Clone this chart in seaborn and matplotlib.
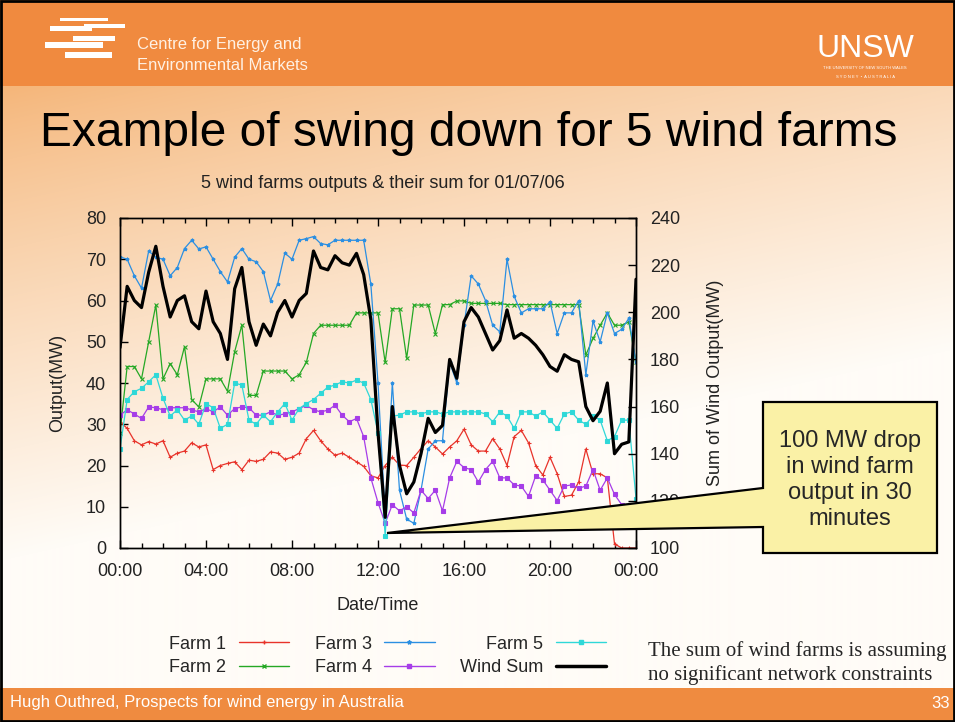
import numpy as np
import pandas as pd
import seaborn as sns
import matplotlib
matplotlib.use("Agg")
import matplotlib.pyplot as plt
from matplotlib.lines import Line2D
from matplotlib.patches import Rectangle, Polygon


# ── Data (20-minute steps) ──────────────────────────────────────────────────

minutes = list(range(0, 1441, 20))
hours = [m / 60 for m in minutes]

# MW, left axis
farm1 = [
    30.6, 29, 26, 25, 25.8, 25.2, 26, 22, 23, 23.5, 25.5, 24.5,
    25, 19, 20, 20.5, 20.9, 19, 21.3, 21, 21.5, 23.3, 23, 21.5,
    22, 23, 26.5, 28.5, 26, 24, 22.5, 23, 22, 20.9, 19.8, 17.5,
    17, 20, 22, 20.1, 20, 22, 24.1, 26, 24.5, 22.8, 24.5, 26,
    28.8, 25, 23.5, 23.5, 26.5, 24, 20, 27, 28.5, 25.5, 20, 17.7,
    22, 18, 12.5, 12.8, 16, 24, 18, 18, 17, 1, 0, 0,
    0]
farm2 = [
    28, 44, 44, 41, 50, 58.9, 41, 44.7, 42, 48.8, 36, 34.2,
    41, 41, 41, 38, 47.6, 54, 37, 37, 42.9, 42.9, 42.9, 42.9,
    41, 42, 45, 52, 54, 54, 54, 54, 54, 57, 57, 57,
    57, 45, 58, 58, 46, 58.9, 58.9, 58.9, 52, 59, 59, 59.9,
    59.9, 59.3, 59.3, 59.3, 59.3, 59.3, 59, 59, 59, 59, 59, 59,
    59, 59, 59, 59, 59, 46.8, 50.8, 54, 57, 54, 54, 54.8,
    45]
farm3 = [
    70.6, 70, 66, 63, 72, 70.5, 70, 66, 68, 72.6, 74.6, 72.5,
    73, 70, 67, 64.5, 70.5, 72.6, 70, 69.4, 67, 60, 64, 71.5,
    70, 74.6, 75, 75.5, 73.8, 73.5, 74.6, 74.6, 74.6, 74.6, 74.6, 64,
    40, 8, 40, 14, 7, 6, 14, 24, 26, 26, 45, 40,
    54, 66, 64, 60, 54, 52.4, 70, 61, 57, 58, 58, 58,
    59.7, 52, 57, 57, 60, 42, 55, 50, 57, 52, 53, 55.7,
    45]
farm4 = [
    32.2, 33.5, 32.5, 31.4, 34.2, 34, 33.5, 34, 34, 34, 33.5, 33,
    33.8, 33, 34.2, 32.2, 33.8, 34.2, 34, 32.2, 32.2, 33, 32.2, 32.5,
    33, 33.8, 34.6, 33.5, 33, 33.4, 34.6, 32.2, 30.6, 31.4, 27, 17,
    11, 6, 10.5, 9, 10, 8.5, 14, 12, 14, 9, 17, 21,
    19.5, 19, 16, 19, 21, 17, 17, 15.3, 15, 12.5, 17.5, 16.5,
    14, 11.5, 15, 15.3, 14.5, 15, 19, 14, 17, 13, 10.5, 9,
    8]
farm5 = [
    24, 36, 37.9, 38.7, 40.3, 42, 36.3, 32, 33.5, 31, 32, 30,
    35, 34, 29, 30, 40, 39.5, 31, 30, 32.2, 30.6, 33, 35,
    31, 33.8, 35, 36, 37.5, 39, 39.5, 40.3, 40, 40.7, 40, 36,
    28, 3, 32, 32.2, 33, 33, 32.5, 33, 33, 32.5, 33, 33,
    33, 33, 33, 32.5, 30.6, 33, 32, 29, 33, 33, 32, 33,
    31, 29, 32.5, 33, 31, 30, 32, 31, 26, 27, 31, 31,
    12]

# MW, right axis
wind_sum = [
    185, 211, 205, 202, 217, 228, 211, 198, 205, 207, 196, 193,
    209, 196, 191, 180, 210, 219, 196, 186, 195, 190, 200, 205,
    198, 205, 208, 226, 219, 218, 224, 221, 220, 225, 216, 197,
    149, 113, 160, 135, 123, 128, 140, 155, 149, 152, 180, 172,
    196, 202, 198, 191, 184, 188, 201, 189, 191, 189, 186, 182,
    177, 175, 182, 180, 179, 160, 154, 158, 170, 140, 144, 145,
    214]

farm_names   = ["Farm 1", "Farm 2", "Farm 3", "Farm 4", "Farm 5"]
farm_colors  = ["#e8332a", "#25a825", "#2b8fe2", "#a63de8", "#2fd8d8"]
farm_markers = ["+", "x", "*", "s", "s"]

xtick_hours  = [0, 4, 8, 12, 16, 20, 24]
xtick_labels = ["00:00", "04:00", "08:00", "12:00", "16:00", "20:00", "00:00"]

W, H = 955, 722
HEADER = "#f08a3f"
FOOTER = "#ef8b40"
TXT = "#222222"
FS = 13

sns.set_style("ticks")
plt.rcParams["font.family"] = ["Liberation Sans", "DejaVu Sans"]

fig = plt.figure(figsize=(W / 100, H / 100), dpi=100)

# ── Slide background ────────────────────────────────────────────────────────

bg = fig.add_axes([0, 0, 1, 1], zorder=0)
yy, xx = np.mgrid[0:H, 0:W]
t = np.clip(0.45 * xx / W + (yy - 90) / 470, 0, 1) ** 0.85
peach = np.array([245, 182, 122]) / 255
white = np.array([255, 252, 247]) / 255
grad = peach * (1 - t[..., None]) + white * t[..., None]
bg.imshow(grad, extent=(0, W, H, 0), aspect="auto")
bg.set_xlim(0, W)
bg.set_ylim(H, 0)
bg.axis("off")

bg.add_patch(Rectangle((0, 0), W, 86, color=HEADER, lw=0))
bg.add_patch(Rectangle((0, 688), W, 34, color=FOOTER, lw=0))
bg.add_patch(Rectangle((1, 1), W - 2, H - 2, fill=False, ec="black", lw=2))

# CEEM logo bars
for x, y, w, h in [(60, 18, 48, 2.5), (50, 26, 42, 5), (84, 24, 41, 4),
                   (73, 36, 42, 4.5), (45, 42, 58, 6), (65, 52, 47, 6)]:
    bg.add_patch(Rectangle((x, y), w, h, color="white", lw=0))

narrow = ["Liberation Sans Narrow", "Liberation Sans", "DejaVu Sans"]
bg.text(137, 44, "Centre for Energy and", color="#fff1e4", fontsize=12,
        family=narrow, va="center")
bg.text(137, 65, "Environmental Markets", color="#fff1e4", fontsize=12,
        family=narrow, va="center")
bg.text(865, 49, "UNSW", color="white", fontsize=23, family=narrow,
        ha="center", va="center")
bg.text(865, 68, "THE UNIVERSITY OF NEW SOUTH WALES", color="white",
        fontsize=3, ha="center", va="center")
bg.text(865, 77, "S Y D N E Y  •  A U S T R A L I A", color="white",
        fontsize=3, ha="center", va="center")

bg.text(40, 133, "Example of swing down for 5 wind farms", fontsize=34.5,
        color="black", va="center")
bg.text(383, 183, "5 wind farms outputs & their sum for 01/07/06",
        fontsize=13, color=TXT, ha="center", va="center")
serif = ["Liberation Serif", "DejaVu Serif"]
bg.text(648, 651, "The sum of wind farms is assuming", family=serif,
        fontsize=15, va="center")
bg.text(648, 675, "no significant network constraints", family=serif,
        fontsize=15, va="center")
bg.text(10, 702, "Hugh Outhred, Prospects for wind energy in Australia",
        color="white", fontsize=12, va="center")
bg.text(931, 704, "33", color="white", fontsize=12, va="center")

# ── Chart ───────────────────────────────────────────────────────────────────

ax = fig.add_axes([120 / W, 1 - 548 / H, 516 / W, 330 / H], zorder=1)
ax.patch.set_visible(False)

df = pd.DataFrame({
    "hour": hours * len(farm_names),
    "output": farm1 + farm2 + farm3 + farm4 + farm5,
    "farm": np.repeat(farm_names, len(hours)),
})
# line-art and filled markers can't share one seaborn call, so one per farm
for name, color, marker in zip(farm_names, farm_colors, farm_markers):
    sns.lineplot(data=df[df["farm"] == name], x="hour", y="output",
                 color=color, marker=marker, markersize=2.6,
                 markeredgecolor=color, markeredgewidth=0.8,
                 linewidth=0.9, estimator=None, legend=False, ax=ax)

ax2 = ax.twinx()
ax2.set_zorder(2)
ax2.patch.set_visible(False)
sns.lineplot(x=hours, y=wind_sum, color="black", linewidth=2.3,
             estimator=None, legend=False, ax=ax2)

ax.set_xlim(0, 24)
ax.set_ylim(0, 80)
ax2.set_ylim(100, 240)
ax.set_xticks(xtick_hours)
ax.set_xticklabels(xtick_labels)
ax.set_xticks(range(0, 25), minor=True)
ax.set_yticks(range(0, 81, 10))
ax2.set_yticks(range(100, 241, 20))

ax.set_xlabel("Date/Time", fontsize=FS, color=TXT, labelpad=12)
ax.set_ylabel("Output(MW)", fontsize=FS, color=TXT, labelpad=14)
ax2.set_ylabel("Sum of Wind Output(MW)", fontsize=FS, color=TXT,
               labelpad=19)

ax.tick_params(axis="both", which="major", direction="in", length=6,
               width=1, color="black", labelcolor=TXT, labelsize=FS)
ax.tick_params(axis="x", which="both", top=True, bottom=True, pad=11)
ax.tick_params(axis="x", which="minor", direction="in", length=3.5,
               width=1, color="black")
ax.tick_params(axis="y", right=False, pad=10)
ax2.tick_params(axis="y", direction="in", length=6, width=1, color="black",
                labelcolor=TXT, labelsize=FS, pad=10)
for a in (ax, ax2):
    for sp in a.spines.values():
        sp.set_visible(True)
        sp.set_color("black")
        sp.set_linewidth(1)

# gnuplot-style key under the chart
handles = [Line2D([], [], color=c, marker=m, markersize=3, lw=1)
           for c, m in zip(farm_colors, farm_markers)]
handles.append(Line2D([], [], color="black", lw=2.5))
fig.legend(handles, farm_names + ["Wind Sum"], ncol=3, loc="center",
           bbox_to_anchor=(0.406, 0.0915), frameon=False, markerfirst=False,
           handlelength=2.8, handletextpad=0.7, columnspacing=1.4,
           labelspacing=0.35, fontsize=FS)

# ── Callout ─────────────────────────────────────────────────────────────────

ov = fig.add_axes([0, 0, 1, 1], zorder=4)
ov.set_xlim(0, W)
ov.set_ylim(H, 0)
ov.axis("off")
ov.add_patch(Polygon([(763, 402), (937, 402), (937, 553), (763, 553),
                      (763, 527), (387, 533), (763, 488)],
                     closed=True, fc="#faf1a6", ec="black", lw=1.6))
ov.text(850, 480, "100 MW drop\nin wind farm\noutput in 30\nminutes",
        fontsize=17, ha="center", va="center", linespacing=1.22)

fig.savefig("out.png", dpi=100)
